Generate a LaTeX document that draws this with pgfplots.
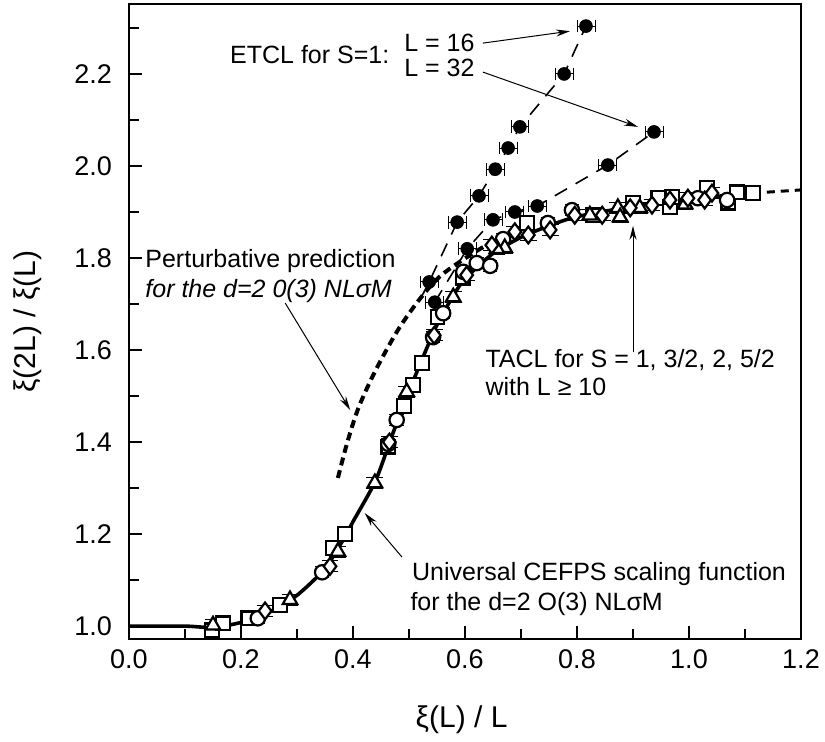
\documentclass[border=0pt]{standalone}
\usepackage{fontspec}
\setmainfont{Liberation Sans}
\usepackage{pgfplots}
\pgfplotsset{compat=1.18}
\usetikzlibrary{arrows.meta}

\begin{document}
\begin{tikzpicture}
\begin{axis}[
  scale only axis, width=336pt, height=317.5pt,
  xmin=0, xmax=1.2, ymin=0.972, ymax=2.352,
  clip=false,
  axis line style={line width=1pt},
  xtick={0,0.2,0.4,0.6,0.8,1.0,1.2},
  minor xtick={0.1,0.3,0.5,0.7,0.9,1.1},
  ytick={1,1.2,1.4,1.6,1.8,2,2.2},
  minor ytick={1.1,1.3,1.5,1.7,1.9,2.1,2.3},
  xtick pos=bottom, ytick pos=left,
  tick align=inside,
  major tick length=6.5pt, minor tick length=5pt,
  every tick/.style={line width=0.8pt, black},
  /pgf/number format/fixed, /pgf/number format/fixed zerofill,
  /pgf/number format/precision=1, /pgf/number format/assume math mode=true,
  xticklabel style={font=\fontsize{13.5}{16}\selectfont, yshift=-2pt},
  yticklabel style={font=\fontsize{13.5}{16}\selectfont, xshift=-5pt},
  xlabel={ξ(L) / L},
  ylabel={ξ(2L) / ξ(L)},
  every axis x label/.style={at={(axis description cs:0.495,-0.1276)}, anchor=center, font=\fontsize{15}{18}\selectfont},
  every axis y label/.style={at={(axis description cs:-0.15,0.5)}, rotate=90, anchor=center, font=\fontsize{15}{18}\selectfont},
  error bars/error bar style={line width=0.5pt, black},
]
\coordinate (SW) at (rel axis cs:0,0);
\coordinate (NE) at (rel axis cs:1,1);

% Universal CEFPS scaling function (solid)
\addplot[line width=1.8pt, black, smooth, tension=0.4] coordinates {
(0,1.0) (0.1,1.0) (0.15,0.997) (0.2,1.008) (0.25,1.03) (0.3,1.067) (0.35,1.125)
(0.386,1.195) (0.4,1.227) (0.44,1.315) (0.47,1.415) (0.5,1.51) (0.52,1.57)
(0.55,1.655) (0.58,1.72) (0.6,1.755) (0.65,1.81) (0.7,1.845) (0.75,1.87)
(0.8,1.89) (0.9,1.912) (1.0,1.928) (1.114,1.941)
};
\addplot[line width=1.5pt, black, dash pattern=on 4pt off 3pt] coordinates {
(1.114,1.941) (1.2,1.948)
};

% Perturbative prediction (thick dotted)
\addplot[line width=2pt, black, dash pattern=on 4pt off 2.5pt, smooth] coordinates {
(0.373,1.322) (0.39,1.40) (0.41,1.475) (0.44,1.555) (0.48,1.643) (0.52,1.712)
(0.56,1.765) (0.63,1.822) (0.66,1.835)
};

% ETCL S=1, L=16
\addplot[line width=0.8pt, black, dash pattern=on 7pt off 5pt] coordinates {
(0.52,1.71) (0.536,1.748) (0.586,1.878) (0.625,1.935) (0.654,1.993) (0.677,2.039)
(0.698,2.085) (0.777,2.2) (0.816,2.304)
};
% ETCL S=1, L=32
\addplot[line width=0.8pt, black, dash pattern=on 7pt off 5pt] coordinates {
(0.546,1.704) (0.604,1.82) (0.65,1.883) (0.689,1.9) (0.729,1.913) (0.855,2.002) (0.9375,2.074)
};

% filled markers ETCL
\addplot[only marks, mark=*, mark size=3.2pt, black,
  error bars/.cd, x dir=both, x fixed=0.016] coordinates {
(0.536,1.748) (0.586,1.878) (0.625,1.935) (0.654,1.993) (0.677,2.039)
(0.698,2.085) (0.777,2.2) (0.816,2.304)
(0.546,1.704) (0.604,1.82) (0.65,1.883) (0.689,1.9) (0.729,1.913) (0.855,2.002) (0.9375,2.074)
};

% TACL open symbols
% squares
\addplot[only marks, mark=square*, mark size=3.4pt, mark options={fill=white, draw=black, line width=1.1pt},
  error bars/.cd, y dir=both, y fixed=0.012] coordinates {
(0.148,0.991) (0.168,1.006) (0.213,1.017) (0.270,1.046) (0.364,1.17) (0.386,1.2)
(0.463,1.39) (0.491,1.478) (0.507,1.524) (0.523,1.572) (0.551,1.672) (0.596,1.757)
(0.711,1.876) (0.829,1.893) (0.900,1.92) (0.945,1.93) (0.966,1.911) (0.970,1.933)
(1.032,1.952) (1.070,1.92) (1.086,1.943) (1.114,1.941)
};
% circles
\addplot[only marks, mark=*, mark size=3.6pt, mark options={fill=white, draw=black, line width=1.1pt},
  error bars/.cd, y dir=both, y fixed=0.012] coordinates {
(0.230,1.017) (0.345,1.117) (0.463,1.396) (0.478,1.448) (0.543,1.628) (0.561,1.68)
(0.621,1.789) (0.645,1.783) (0.668,1.841) (0.748,1.876) (0.791,1.904) (1.016,1.93)
(1.068,1.926) (0.597,1.77)
};
% triangles
\addplot[only marks, mark=triangle*, mark size=4.2pt, mark options={fill=white, draw=black, line width=1.1pt},
  error bars/.cd, y dir=both, y fixed=0.012] coordinates {
(0.150,1.002) (0.2875,1.057) (0.373,1.162) (0.439,1.311) (0.496,1.509) (0.579,1.715)
(0.671,1.822) (0.823,1.893) (0.873,1.909) (0.877,1.889) (0.912,1.909) (0.993,1.917)
(0.657,1.82)
};
% diamonds
\addplot[only marks, mark=diamond*, mark size=4.2pt, mark options={fill=white, draw=black, line width=1.1pt},
  error bars/.cd, y dir=both, y fixed=0.012] coordinates {
(0.243,1.033) (0.359,1.13) (0.465,1.40) (0.545,1.632) (0.603,1.763) (0.648,1.828)
(0.689,1.857) (0.713,1.85) (0.752,1.861) (0.796,1.893) (0.845,1.893) (0.895,1.909)
(0.934,1.915) (0.966,1.926) (0.998,1.93) (1.028,1.926) (1.041,1.941)
};

% annotations
\begin{scope}[font=\fontsize{12.5}{15}\selectfont]
\node[anchor=west, inner sep=0pt] at (axis cs:0.180,2.243) {ETCL for S=1:};
\node[anchor=west, inner sep=0pt] at (axis cs:0.491,2.267) {L = 16};
\node[anchor=west, inner sep=0pt] at (axis cs:0.491,2.213) {L = 32};
\node[anchor=base west, inner sep=0pt] at (axis cs:0.0286,1.780) {Perturbative prediction};
\node[anchor=base west, inner sep=0pt] at (axis cs:0.0286,1.715) {\itshape for the d=2 0(3) NLσM};
\node[anchor=base west, inner sep=0pt] at (axis cs:0.636,1.563) {TACL for S = 1, 3/2, 2, 5/2};
\node[anchor=base west, inner sep=0pt] at (axis cs:0.636,1.502) {with L ≥ 10};
\node[anchor=base west, inner sep=0pt] at (axis cs:0.505,1.100) {Universal CEFPS scaling function};
\node[anchor=base west, inner sep=0pt] at (axis cs:0.502,1.035) {for the d=2 O(3) NLσM};
\end{scope}
\begin{scope}[line width=0.5pt, -{Stealth[length=7pt,width=3.5pt]}]
\draw (axis cs:0.632,2.267) -- (axis cs:0.7875,2.293);
\draw (axis cs:0.632,2.204) -- (axis cs:0.909,2.085);
\draw (axis cs:0.279,1.702) -- (axis cs:0.395,1.4696);
\draw (axis cs:0.9,1.596) -- (axis cs:0.9,1.870);
\draw (axis cs:0.4875,1.15) -- (axis cs:0.421,1.2457);
\end{scope}
\end{axis}
\pgfresetboundingbox
\path ([shift={(-64.5pt,-51pt)}]SW) rectangle ([shift={(12pt,2pt)}]NE);
\end{tikzpicture}
\end{document}
